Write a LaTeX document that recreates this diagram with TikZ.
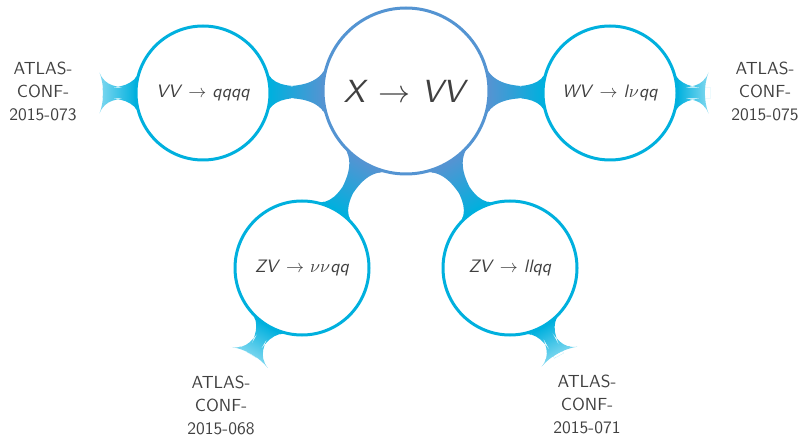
\documentclass[tikz,border=0pt]{standalone}
\usepackage{fix-cm}
\usepackage{graphicx}
\usetikzlibrary{mindmap,backgrounds}
\definecolor{hubc}{RGB}{84,148,210}
\definecolor{kidc}{RGB}{0,176,222}
\definecolor{leafc}{RGB}{115,212,238}
\definecolor{txtc}{RGB}{64,64,64}
\newcommand{\atlasconf}[1]{\scalebox{1.75}{\fontsize{10}{12.9}\selectfont\sffamily\begin{tabular}{@{}c@{}}ATLAS-\\CONF-\\2015-#1\end{tabular}}}
\begin{document}
\begin{tikzpicture}[x=1pt,y=-1pt,mindmap,
  hub/.style={circle,draw=hubc,line width=3pt,fill=white,minimum size=166pt,inner sep=0pt,text width=150pt,align=center,text=txtc,font=\fontsize{10}{12}\selectfont\sffamily},
  kid/.style={circle,draw=kidc,line width=3pt,fill=white,minimum size=134pt,inner sep=0pt,text width=125pt,align=center,text=txtc,font=\fontsize{10}{12}\selectfont\sffamily},
  leaf/.style={circle,inner sep=0pt,align=center,text=txtc},
  hbar/.style={circle connection bar switch color=from (hubc) to (kidc)},
  lbar/.style={circle connection bar switch color=from (kidc) to (leafc)}]
\useasboundingbox (0,0) rectangle (806,438);
\node[hub] (hub) at (406,91) {\scalebox{3.2}{\textit{X} $\rightarrow$ \textit{VV}}};
\node[kid] (k1) at (203,93) {\scalebox{1.8}{\textit{VV} $\rightarrow$ \textit{qqqq}}};
\node[kid] (k2) at (610,93) {\scalebox{1.8}{\textit{WV} $\rightarrow$ \textit{l}$\nu$\textit{qq}}};
\node[kid] (k3) at (302,268) {\scalebox{1.8}{\textit{ZV} $\rightarrow$ $\nu\nu$\textit{qq}}};
\node[kid] (k4) at (510,268) {\scalebox{1.8}{\textit{ZV} $\rightarrow$ \textit{llqq}}};
\node[leaf,minimum size=96pt] (a1) at (43,93) {\atlasconf{073}};
\node[leaf,minimum size=94pt] (a2) at (765,93) {\atlasconf{075}};
\node[leaf,minimum size=122pt] (a3) at (221,407) {\atlasconf{068}};
\node[leaf,minimum size=118pt] (a4) at (587,406) {\atlasconf{071}};
\begin{scope}[on background layer]
\path (hub) to[hbar] (k1);
\path (hub) to[hbar] (k2);
\path (hub) to[hbar] (k3);
\path (hub) to[hbar] (k4);
\path (k1) to[lbar] (a1);
\path (k2) to[lbar] (a2);
\path (k3) to[lbar] (a3);
\path (k4) to[lbar] (a4);
\end{scope}
\end{tikzpicture}
\end{document}
